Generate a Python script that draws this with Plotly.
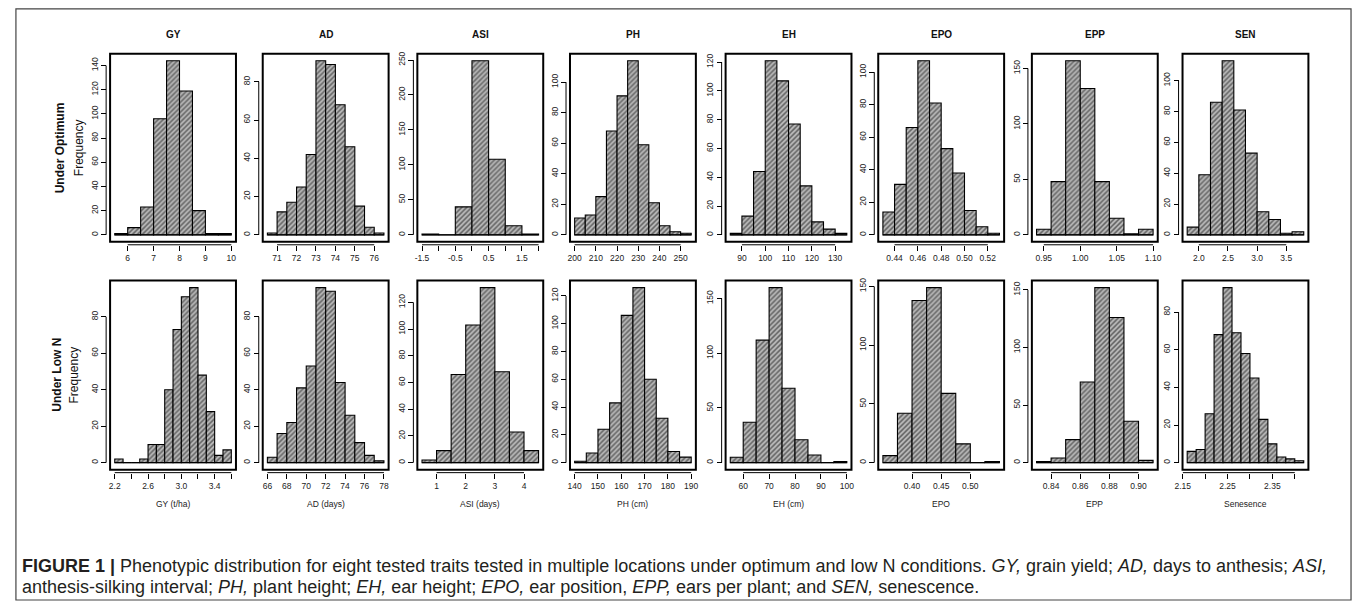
import plotly.graph_objects as go

W, H = 1358, 602

TRAITS = ["GY", "AD", "ASI", "PH", "EH", "EPO", "EPP", "SEN"]
X_TITLES = ["GY (t/ha)", "AD (days)", "ASI (days)", "PH (cm)", "EH (cm)", "EPO", "EPP", "Senesence"]
ROW_LABELS = ["Under Optimum", "Under Low N"]

# ---------------- Under optimum ----------------
OPT_START = [5.5, 70.5, -1.5, 200, 85, 0.43, 0.94, 1.8]
OPT_WIDTH = [0.5, 0.5, 0.5, 5, 5, 0.01, 0.02, 0.2]
OPT_GY = [1, 6, 23, 96, 144, 119, 20, 1, 1]
OPT_AD = [1, 12, 17, 25, 42, 91, 89, 68, 46, 15, 4, 1]
OPT_ASI = [1, 0, 40, 249, 108, 13, 1]
OPT_PH = [11, 13, 25, 68, 91, 114, 59, 21, 6, 2, 1]
OPT_EH = [1, 13, 44, 121, 107, 77, 34, 9, 4, 1]
OPT_EPO = [14, 31, 66, 107, 81, 53, 38, 15, 5, 1]
OPT_EPP = [5, 48, 157, 132, 48, 15, 1, 5]
OPT_SEN = [5, 39, 86, 113, 81, 53, 15, 10, 1, 2]
OPT_COUNTS = [OPT_GY, OPT_AD, OPT_ASI, OPT_PH, OPT_EH, OPT_EPO, OPT_EPP, OPT_SEN]

OPT_XTICKS = [
    [6, 7, 8, 9, 10],
    [71, 72, 73, 74, 75, 76],
    [-1.5, -1, -0.5, 0, 0.5, 1, 1.5, 2],
    [200, 210, 220, 230, 240, 250],
    [90, 100, 110, 120, 130],
    [0.44, 0.46, 0.48, 0.50, 0.52],
    [0.95, 1.00, 1.05, 1.10],
    [2.0, 2.5, 3.0, 3.5],
]
OPT_XLABELS = [
    ["6", "7", "8", "9", "10"],
    ["71", "72", "73", "74", "75", "76"],
    ["-1.5", "", "-0.5", "", "0.5", "", "1.5", ""],
    ["200", "210", "220", "230", "240", "250"],
    ["90", "100", "110", "120", "130"],
    ["0.44", "0.46", "0.48", "0.50", "0.52"],
    ["0.95", "1.00", "1.05", "1.10"],
    ["2.0", "2.5", "3.0", "3.5"],
]
OPT_YTICKS = [
    [0, 20, 40, 60, 80, 100, 120, 140],
    [0, 20, 40, 60, 80],
    [0, 50, 100, 150, 200, 250],
    [0, 20, 40, 60, 80, 100],
    [0, 20, 40, 60, 80, 100, 120],
    [0, 20, 40, 60, 80, 100],
    [0, 50, 100, 150],
    [0, 20, 40, 60, 80, 100],
]

# ---------------- Under low N ----------------
LOW_START = [2.2, 66, 0.5, 140, 55, 0.35, 0.83, 2.16]
LOW_WIDTH = [0.1, 1, 0.5, 5, 5, 0.025, 0.01, 0.02]
LOW_GY = [2, 0, 0, 2, 10, 10, 40, 73, 91, 96, 48, 28, 4, 7]
LOW_AD = [3, 16, 22, 41, 53, 96, 94, 44, 26, 11, 4, 1]
LOW_ASI = [2, 9, 66, 103, 131, 68, 23, 9]
LOW_PH = [1, 7, 24, 43, 106, 126, 60, 32, 8, 4]
LOW_EH = [5, 37, 112, 160, 68, 21, 7, 0, 1]
LOW_EPO = [6, 42, 138, 149, 59, 16, 0, 1]
LOW_EPP = [1, 4, 20, 70, 152, 126, 36, 2]
LOW_SEN = [6, 7, 26, 68, 93, 69, 58, 45, 23, 10, 3, 2, 1]
LOW_COUNTS = [LOW_GY, LOW_AD, LOW_ASI, LOW_PH, LOW_EH, LOW_EPO, LOW_EPP, LOW_SEN]

LOW_XTICKS = [
    [2.2, 2.4, 2.6, 2.8, 3.0, 3.2, 3.4, 3.6],
    [66, 68, 70, 72, 74, 76, 78],
    [1, 2, 3, 4],
    [140, 150, 160, 170, 180, 190],
    [60, 70, 80, 90, 100],
    [0.40, 0.45, 0.50],
    [0.84, 0.86, 0.88, 0.90],
    [2.15, 2.20, 2.25, 2.30, 2.35, 2.40],
]
LOW_XLABELS = [
    ["2.2", "", "2.6", "", "3.0", "", "3.4", ""],
    ["66", "68", "70", "72", "74", "76", "78"],
    ["1", "2", "3", "4"],
    ["140", "150", "160", "170", "180", "190"],
    ["60", "70", "80", "90", "100"],
    ["0.40", "0.45", "0.50"],
    ["0.84", "0.86", "0.88", "0.90"],
    ["2.15", "", "2.25", "", "2.35", ""],
]
LOW_YTICKS = [
    [0, 20, 40, 60, 80],
    [0, 20, 40, 60, 80],
    [0, 20, 40, 60, 80, 100, 120],
    [0, 20, 40, 60, 80, 100, 120],
    [0, 50, 100, 150],
    [0, 50, 100, 150],
    [0, 50, 100, 150],
    [0, 20, 40, 60, 80],
]

CAPTION_1 = ("<b>FIGURE 1 |</b> Phenotypic distribution for eight tested traits tested in multiple "
             "locations under optimum and low N conditions. <i>GY,</i> grain yield; <i>AD,</i> days "
             "to anthesis; <i>ASI,</i>")
CAPTION_2 = ("anthesis-silking interval; <i>PH,</i> plant height; <i>EH,</i> ear height; <i>EPO,</i> "
             "ear position, <i>EPP,</i> ears per plant; and <i>SEN,</i> senescence.")

# ---------------- layout geometry (pixels) ----------------
COL_LEFT = [103, 257, 413, 567, 724, 878, 1033, 1185]
PANEL_W = 127
ROW_TOP = [51, 279]
ROW_BOT = [240, 469]
FONT = "Liberation Sans, Arial, Helvetica, sans-serif"
TICK_FONT = dict(family=FONT, size=8.5, color="#222")

fig = go.Figure()
layout = {}
shapes = []
annotations = []

panels = []
for c in range(8):
    panels.append((0, c, OPT_START[c], OPT_WIDTH[c], OPT_COUNTS[c], OPT_XTICKS[c], OPT_XLABELS[c], OPT_YTICKS[c]))
for c in range(8):
    panels.append((1, c, LOW_START[c], LOW_WIDTH[c], LOW_COUNTS[c], LOW_XTICKS[c], LOW_XLABELS[c], LOW_YTICKS[c]))

for idx, (r, c, start, width, counts, xticks, xlabels, yticks) in enumerate(panels):
    n = idx + 1
    xa = "x" if n == 1 else f"x{n}"
    ya = "y" if n == 1 else f"y{n}"
    xkey = "xaxis" if n == 1 else f"xaxis{n}"
    ykey = "yaxis" if n == 1 else f"yaxis{n}"
    L = COL_LEFT[c]
    R = L + PANEL_W
    top, bot = ROW_TOP[r], ROW_BOT[r]
    edges = [start + k * width for k in range(len(counts) + 1)]
    x0, x1 = edges[0], edges[-1]
    pad = 0.04 * (x1 - x0)
    ymax = max(counts)
    ypad = 0.04 * ymax

    fig.add_trace(go.Bar(
        x=edges[:-1], y=counts, width=[width] * len(counts), offset=0,
        xaxis=xa, yaxis=ya, showlegend=False, hoverinfo="skip",
        marker=dict(color="#b4b4b4",
                    line=dict(color="black", width=1.1),
                    pattern=dict(shape="/", fgcolor="#111", bgcolor="#b8b8b8", size=3.5, solidity=0.45)),
    ))
    fig.add_trace(go.Scatter(
        x=[x0, x1], y=[0, 0], mode="lines", line=dict(color="black", width=1),
        xaxis=xa, yaxis=ya, showlegend=False, hoverinfo="skip",
    ))

    xpos = 1 - (bot + 3) / H
    ypos = (L - 4) / W
    layout[xkey] = dict(
        domain=[L / W, R / W], range=[x0 - pad, x1 + pad], anchor="free", position=xpos,
        showline=False, showgrid=False, zeroline=False, ticks="outside", ticklen=5,
        tickwidth=1, tickcolor="black", tickvals=xticks, ticktext=xlabels,
        tickfont=TICK_FONT, fixedrange=True,
    )
    layout[ykey] = dict(
        domain=[1 - bot / H, 1 - top / H], range=[-ypad, ymax + ypad], anchor="free", position=ypos,
        showline=False, showgrid=False, zeroline=False, ticks="outside", ticklen=5,
        tickwidth=1, tickcolor="black", tickvals=yticks, ticktext=[str(v) for v in yticks],
        tickangle=-90, tickfont=TICK_FONT, fixedrange=True,
    )
    shapes.append(dict(type="rect", xref=f"{xa} domain", yref=f"{ya} domain",
                       x0=0, x1=1, y0=0, y1=1, line=dict(color="black", width=2)))
    shapes.append(dict(type="line", xref=xa, yref="paper", x0=xticks[0], x1=xticks[-1],
                       y0=xpos, y1=xpos, line=dict(color="black", width=1)))
    shapes.append(dict(type="line", xref="paper", yref=ya, x0=ypos, x1=ypos,
                       y0=yticks[0], y1=yticks[-1], line=dict(color="black", width=1)))

    if r == 0:
        annotations.append(dict(text=f"<b>{TRAITS[c]}</b>", xref="paper", yref="paper",
                                x=(L + PANEL_W / 2) / W, y=1 - 32 / H, showarrow=False,
                                xanchor="center", yanchor="middle",
                                font=dict(family=FONT, size=10, color="#111")))
    else:
        annotations.append(dict(text=X_TITLES[c], xref="paper", yref="paper",
                                x=(L + PANEL_W / 2) / W, y=1 - 504 / H, showarrow=False,
                                xanchor="center", yanchor="middle",
                                font=dict(family=FONT, size=8.5, color="#222")))

ROW_LABEL_X = [52, 50]
FREQ_X = [71, 67]
for r in range(2):
    yc = 1 - (ROW_TOP[r] + ROW_BOT[r]) / 2 / H
    annotations.append(dict(text=f"<b>{ROW_LABELS[r]}</b>", xref="paper", yref="paper",
                            x=ROW_LABEL_X[r] / W, y=yc, textangle=-90, showarrow=False,
                            xanchor="center", yanchor="middle",
                            font=dict(family=FONT, size=12, color="#111")))
    annotations.append(dict(text="Frequency", xref="paper", yref="paper",
                            x=FREQ_X[r] / W, y=yc, textangle=-90, showarrow=False,
                            xanchor="center", yanchor="middle",
                            font=dict(family=FONT, size=12, color="#111")))

annotations.append(dict(text=CAPTION_1, xref="paper", yref="paper", x=12 / W, y=1 - 566 / H,
                        xanchor="left", yanchor="middle", showarrow=False, align="left",
                        font=dict(family=FONT, size=18, color="#231f20")))
annotations.append(dict(text=CAPTION_2, xref="paper", yref="paper", x=12 / W, y=1 - 587 / H,
                        xanchor="left", yanchor="middle", showarrow=False, align="left",
                        font=dict(family=FONT, size=18, color="#231f20")))

shapes.append(dict(type="rect", xref="paper", yref="paper", x0=8 / W, x1=1355 / W,
                   y0=1 - 600 / H, y1=1 - 6 / H, line=dict(color="#444", width=1.2)))

fig.update_layout(
    width=W, height=H, margin=dict(l=0, r=0, t=0, b=0),
    paper_bgcolor="white", plot_bgcolor="white",
    shapes=shapes, annotations=annotations, showlegend=False,
    barmode="overlay", font=dict(family=FONT),
    **layout,
)

fig.write_html("out.html", config={"displayModeBar": False},
               post_script="document.body.style.margin='0px';")
